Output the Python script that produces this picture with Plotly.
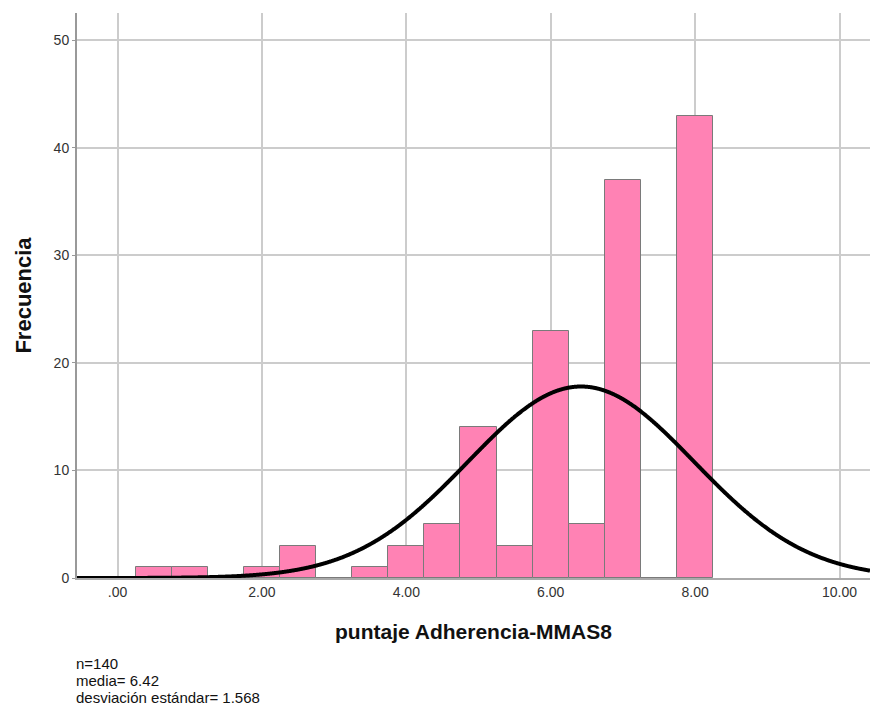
import numpy as np
import plotly.graph_objects as go

bin_centers = [0.5, 1.0, 1.5, 2.0, 2.5, 3.0, 3.5, 4.0, 4.5, 5.0, 5.5, 6.0, 6.5, 7.0, 7.5, 8.0]
counts = [1, 1, 0, 1, 3, 0, 1, 3, 5, 14, 3, 23, 5, 37, 0, 43]
bin_width = 0.5
n = 140
mean = 6.42
sd = 1.568
x_ticks = [0, 2, 4, 6, 8, 10]
x_tick_labels = [".00", "2.00", "4.00", "6.00", "8.00", "10.00"]
y_ticks = [0, 10, 20, 30, 40, 50]
stats_lines = ["n=140", "media= 6.42", "desviación estándar= 1.568"]

xr = [-0.561, 10.422]
xs = np.linspace(xr[0], xr[1], 1200)
ys = n * bin_width / (sd * np.sqrt(2 * np.pi)) * np.exp(-0.5 * ((xs - mean) / sd) ** 2)

fig = go.Figure()
fig.add_trace(go.Bar(
    x=bin_centers, y=counts, width=bin_width,
    marker=dict(color="#FF82B4", line=dict(color="#7a7a7a", width=1)),
    showlegend=False, hoverinfo="skip",
))
fig.add_trace(go.Scatter(
    x=xs, y=ys, mode="lines", line=dict(color="black", width=4, shape="spline"),
    showlegend=False, hoverinfo="skip", cliponaxis=False,
))

font = "Liberation Sans, Arial, sans-serif"
annots = []
for i, t in enumerate(stats_lines):
    py = 663 + 17 * i
    annots.append(dict(text=t, xref="paper", yref="paper", x=-0.004, y=(578 - py) / 565,
                       xanchor="left", yanchor="middle", align="left", showarrow=False,
                       font=dict(size=15, color="#111111", family=font)))

fig.update_layout(
    width=870, height=710,
    margin=dict(l=77, r=0, t=13, b=132),
    plot_bgcolor="white", paper_bgcolor="white",
    font=dict(family=font, color="#222222", size=14),
    bargap=0,
    xaxis=dict(
        range=xr, tickvals=x_ticks, ticktext=x_tick_labels,
        showgrid=True, gridcolor="#cccccc", gridwidth=1.5,
        showline=True, linecolor="#aaaaaa", linewidth=2,
        ticks="", zeroline=False,
        tickfont=dict(size=14, color="#333333"),
        title=dict(text="<b>puntaje Adherencia-MMAS8</b>", font=dict(size=21, color="#111111"), standoff=26),
    ),
    yaxis=dict(
        range=[0, 52.55], tickvals=y_ticks,
        showgrid=True, gridcolor="#cccccc", gridwidth=1.5,
        showline=True, linecolor="#999999", linewidth=2,
        ticks="outside", ticklen=3, tickcolor="#999999",
        zeroline=False,
        tickfont=dict(size=14, color="#333333"),
        title=dict(text="<b>Frecuencia</b>", font=dict(size=22, color="#111111"), standoff=16),
    ),
    annotations=annots,
)
fig.write_html("out.html")
